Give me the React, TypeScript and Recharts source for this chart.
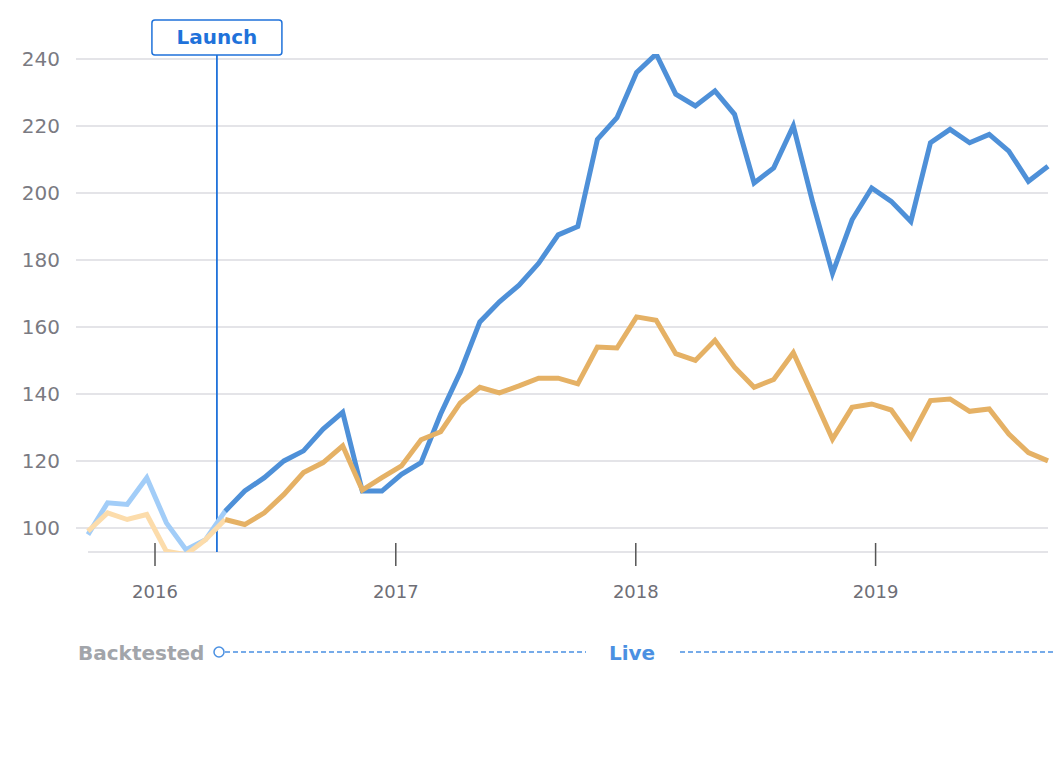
import React from 'react';
import { LineChart, Line, XAxis, YAxis, ReferenceLine } from 'recharts';

// Values, one point per period
const STRATEGY = [
    98, 107.5, 107, 115, 101.5, 93.5, 96.5, 105, 111, 115,
    120, 123, 129.5, 134.5, 111, 111, 116, 119.5, 134, 146.5,
    161.5, 167.5, 172.5, 179, 187.5, 190, 216, 222.5, 236, 241.5,
    229.5, 226, 230.5, 223.5, 203, 207.5, 220, 197, 176, 192,
    201.5, 197.5, 191.5, 215, 219, 215, 217.5, 212.5, 203.5, 208,
];
const BENCHMARK = [
    99, 104.5, 102.5, 104, 93, 92, 96.5, 102.5, 101, 104.5,
    110, 116.5, 119.5, 124.5, 111.3, 115, 118.5, 126.3, 128.7, 137.3,
    142, 140.3, 142.4, 144.7, 144.7, 143, 154, 153.7, 163, 162,
    152, 150, 156, 148, 142, 144.3, 152.3, 139.5, 126.5, 136,
    137, 135.2, 127, 138, 138.5, 134.8, 135.5, 128, 122.5, 120,
];

// Last backtested period, and the launch position (in periods)
const BACKTEST_END = 7;
const LAUNCH_AT = 6.58;

const YEAR_TICKS = [3.42, 15.71, 27.96, 40.2];
const YEAR_LABELS = ['2016', '2017', '2018', '2019'];
const Y_TICKS = [100, 120, 140, 160, 180, 200, 220, 240];
const Y_DOMAIN = [92.8, 241.5];

const BLUE = '#4e90d8';
const BLUE_LIGHT = '#a2cdf8';
const ORANGE = '#e5b165';
const ORANGE_LIGHT = '#fcdcab';
const LAUNCH_BLUE = '#1f72da';
const GRID = '#e4e4e8';
const FONT = '"DejaVu Sans", sans-serif';

const chartData = STRATEGY.map((v, i) => ({
    i,
    strategyBack: i <= BACKTEST_END ? v : null,
    benchBack: i <= BACKTEST_END ? BENCHMARK[i] : null,
    strategy: i >= BACKTEST_END ? v : null,
    bench: i >= BACKTEST_END ? BENCHMARK[i] : null,
}));

const YearTick = ({ x, y, payload }: any) => {
    const idx = YEAR_TICKS.indexOf(payload.value);
    return (
        <g>
            <line x1={x} x2={x} y1={y - 9} y2={y + 14} stroke="#555" strokeWidth={1.5} />
            <text x={x} y={y + 46} textAnchor="middle" fontSize={18} fill="#6e6e76" fontFamily={FONT}>
                {YEAR_LABELS[idx]}
            </text>
        </g>
    );
};

const LaunchLabel = ({ viewBox }: any) => {
    const cx = viewBox.x;
    const top = viewBox.y;
    return (
        <g>
            <rect x={cx - 65} y={top - 34} width={130} height={35} rx={3} fill="#fff" stroke={LAUNCH_BLUE} strokeWidth={1.5} />
            <text x={cx} y={top - 10} textAnchor="middle" fontSize={20} fontWeight="bold" fill={LAUNCH_BLUE} fontFamily={FONT}>
                Launch
            </text>
        </g>
    );
};

export default function App() {
    return (
        <div style={{ position: 'absolute', left: 0, top: 0, width: 1062, height: 769, background: '#fff' }}>
            <LineChart
                width={1062}
                height={769}
                data={chartData}
                margin={{ top: 54, right: 14, left: 0, bottom: 157 }}
            >
                <XAxis
                    type="number"
                    dataKey="i"
                    domain={[0, STRATEGY.length - 1]}
                    ticks={YEAR_TICKS}
                    interval={0}
                    tick={<YearTick />}
                    tickSize={0}
                    tickMargin={0}
                    tickLine={false}
                    axisLine={false}
                    padding={{ left: 12, right: 0 }}
                    height={60}
                />
                <YAxis
                    domain={Y_DOMAIN}
                    ticks={Y_TICKS}
                    allowDataOverflow
                    width={76}
                    tickSize={0}
                    tickMargin={16}
                    axisLine={false}
                    tickLine={false}
                    tick={{ fill: '#7a7a82', fontSize: 20, fontFamily: FONT }}
                />
                {Y_TICKS.map(t => (
                    <ReferenceLine key={t} y={t} stroke={GRID} strokeWidth={2} />
                ))}
                <ReferenceLine
                    segment={[{ x: 0, y: Y_DOMAIN[0] }, { x: STRATEGY.length - 1, y: Y_DOMAIN[0] }]}
                    stroke={GRID}
                    strokeWidth={2}
                />
                <ReferenceLine x={LAUNCH_AT} stroke={LAUNCH_BLUE} strokeWidth={1.8} label={<LaunchLabel />} />
                <Line type="linear" dataKey="strategyBack" stroke={BLUE_LIGHT} strokeWidth={5} dot={false} isAnimationActive={false} />
                <Line type="linear" dataKey="strategy" stroke={BLUE} strokeWidth={5} dot={false} isAnimationActive={false} />
                <Line type="linear" dataKey="benchBack" stroke={ORANGE_LIGHT} strokeWidth={5} dot={false} isAnimationActive={false} />
                <Line type="linear" dataKey="bench" stroke={ORANGE} strokeWidth={5} dot={false} isAnimationActive={false} />
            </LineChart>
            <svg width={1062} height={769} style={{ position: 'absolute', left: 0, top: 0, pointerEvents: 'none' }}>
                <text x={78} y={660} fontSize={20} fontWeight="bold" fill="#a2a5aa" fontFamily={FONT}>Backtested</text>
                <circle cx={219} cy={652} r={5} fill="#fff" stroke="#4a90e2" strokeWidth={1.5} />
                <line x1={225} x2={586} y1={652} y2={652} stroke="#4a90e2" strokeWidth={1.5} strokeDasharray="5 3" />
                <text x={632} y={660} textAnchor="middle" fontSize={20} fontWeight="bold" fill="#4a90e2" fontFamily={FONT}>Live</text>
                <line x1={680} x2={1056} y1={652} y2={652} stroke="#4a90e2" strokeWidth={1.5} strokeDasharray="5 3" />
            </svg>
        </div>
    );
}
